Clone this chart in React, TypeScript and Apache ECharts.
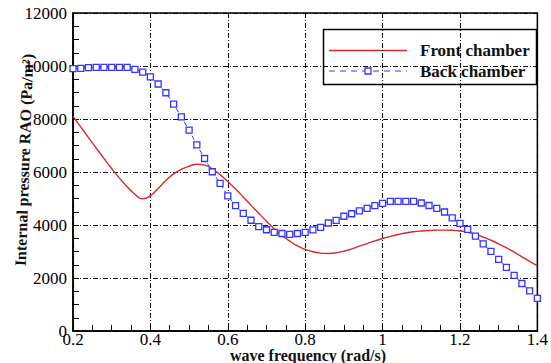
import React, { useEffect, useRef } from "react";
import * as echarts from "echarts";

const freqs = [
  0.2, 0.22, 0.24, 0.26, 0.28, 0.3, 0.32, 0.34, 0.36, 0.38,
  0.4, 0.42, 0.44, 0.46, 0.48, 0.5, 0.52, 0.54, 0.56, 0.58,
  0.6, 0.62, 0.64, 0.66, 0.68, 0.7, 0.72, 0.74, 0.76, 0.78,
  0.8, 0.82, 0.84, 0.86, 0.88, 0.9, 0.92, 0.94, 0.96, 0.98,
  1.0, 1.02, 1.04, 1.06, 1.08, 1.1, 1.12, 1.14, 1.16, 1.18,
  1.2, 1.22, 1.24, 1.26, 1.28, 1.3, 1.32, 1.34, 1.36, 1.38, 1.4,
];

const frontChamber = [
  8100, 7700, 7300, 6900, 6510, 6130, 5770, 5440, 5160, 4990,
  5100, 5380, 5680, 5930, 6100, 6220, 6290, 6260, 6120, 5900,
  5640, 5360, 5060, 4750, 4440, 4140, 3860, 3610, 3390, 3210,
  3080, 2990, 2940, 2925, 2950, 3010, 3100, 3200, 3300, 3400,
  3490, 3570, 3640, 3700, 3745, 3775, 3795, 3805, 3808, 3800,
  3775, 3725, 3645, 3545, 3425, 3290, 3140, 2975, 2800, 2630, 2460,
];

const backChamber = [
  9900, 9910, 9940, 9950, 9950, 9950, 9950, 9950, 9870, 9770,
  9590, 9320, 8990, 8560, 8080, 7580, 7020, 6510, 6010, 5570,
  5100, 4730, 4440, 4180, 3940, 3820, 3725, 3680, 3645, 3680,
  3725, 3818, 3909, 4075, 4173, 4330, 4425, 4530, 4627, 4730,
  4816, 4890, 4895, 4895, 4895, 4830, 4735, 4627, 4490, 4272,
  4065, 3833, 3580, 3290, 3007, 2705, 2400, 2100, 1792, 1515, 1230,
];

const seriesNames = ["Front chamber", "Back chamber"];
const xTitle = "wave frequency (rad/s)";
const yTitle = "Internal pressure RAO (Pa/m²)";

const RED = "#d62b2b";
const BLUE = "#3535ff";
const FONT = "Liberation Serif, serif";
const GRID_DASH = [5, 2, 1, 2];

export default function App() {
  const ref = useRef<HTMLDivElement>(null);
  useEffect(() => {
    if (!ref.current) return;
    const chart = echarts.init(ref.current, undefined, { renderer: "svg" });
    const front = freqs.map((f, i) => [f, frontChamber[i]]);
    const back = freqs.map((f, i) => [f, backChamber[i]]);
    const labelStyle = {
      color: "#000",
      fontFamily: FONT,
      fontSize: 17,
    };
    chart.setOption({
      animation: false,
      backgroundColor: "#fff",
      textStyle: { fontFamily: FONT },
      grid: {
        left: 73,
        right: 7,
        top: 13,
        bottom: 32,
        show: true,
        borderColor: "#000",
        borderWidth: 1.5,
        backgroundColor: "transparent",
        z: 3,
      },
      xAxis: {
        type: "value",
        min: 0.2,
        max: 1.4,
        interval: 0.2,
        axisLine: { show: true, lineStyle: { color: "#000", width: 1.5 } },
        axisTick: { show: true, inside: true, length: 6, lineStyle: { color: "#000", width: 1 } },
        minorTick: { show: true, splitNumber: 4, length: 6, lineStyle: { color: "#000", width: 1 } },
        splitLine: { show: true, lineStyle: { color: "#111", width: 1.1, type: GRID_DASH } },
        axisLabel: {
          ...labelStyle,
          margin: 0,
          formatter: (v: number) => String(Math.round(v * 10) / 10),
        },
      },
      yAxis: {
        type: "value",
        min: 0,
        max: 12000,
        interval: 2000,
        axisLine: { show: true, lineStyle: { color: "#000", width: 1.5 } },
        axisTick: { show: true, inside: true, length: 6, lineStyle: { color: "#000", width: 1 } },
        minorTick: { show: true, splitNumber: 4, length: 6, lineStyle: { color: "#000", width: 1 } },
        splitLine: { show: true, lineStyle: { color: "#111", width: 1.1, type: GRID_DASH } },
        axisLabel: {
          ...labelStyle,
          margin: 6,
          formatter: (v: number) => String(v),
        },
      },
      series: [
        {
          name: seriesNames[0],
          type: "line",
          data: front,
          smooth: true,
          showSymbol: false,
          symbol: "none",
          lineStyle: { color: RED, width: 1.4 },
          z: 4,
        },
        {
          name: seriesNames[1],
          type: "line",
          data: back,
          symbol: "rect",
          symbolSize: 6,
          showSymbol: true,
          itemStyle: { color: "#fff", borderColor: BLUE, borderWidth: 1.3 },
          lineStyle: { color: BLUE, width: 1, type: [5, 3] },
          z: 5,
        },
      ],
      graphic: [
        {
          type: "text",
          x: 24,
          y: 160,
          rotation: Math.PI / 2 - 0.035,
          z: 0,
          style: {
            text: yTitle,
            fontFamily: FONT,
            fontWeight: "bold",
            fontSize: 16,
            fill: "#111",
            textAlign: "center",
            textVerticalAlign: "middle",
          },
        },
        {
          type: "text",
          x: 308,
          y: 355,
          style: {
            text: xTitle,
            fontFamily: FONT,
            fontWeight: "bold",
            fontSize: 16,
            fill: "#111",
            textAlign: "center",
            textVerticalAlign: "middle",
          },
        },
        {
          type: "group",
          z: 10,
          children: [
            {
              type: "rect",
              shape: { x: 323.5, y: 29.5, width: 213, height: 55 },
              style: { fill: "#fff", stroke: "#000", lineWidth: 1.5 },
            },
            {
              type: "line",
              shape: { x1: 329, y1: 50.5, x2: 407, y2: 50.5 },
              style: { stroke: RED, lineWidth: 1.4 },
            },
            {
              type: "line",
              shape: { x1: 329, y1: 71, x2: 407, y2: 71 },
              style: { stroke: BLUE, lineWidth: 1, lineDash: [6, 5] },
            },
            {
              type: "rect",
              shape: { x: 365, y: 68, width: 6, height: 6 },
              style: { fill: "#fff", stroke: BLUE, lineWidth: 1.3 },
            },
            {
              type: "text",
              x: 420,
              y: 50.5,
              style: {
                text: seriesNames[0],
                fontFamily: FONT,
                fontWeight: "bold",
                fontSize: 17,
                fill: "#111",
                textAlign: "left",
                textVerticalAlign: "middle",
              },
            },
            {
              type: "text",
              x: 420,
              y: 71,
              style: {
                text: seriesNames[1],
                fontFamily: FONT,
                fontWeight: "bold",
                fontSize: 17,
                fill: "#111",
                textAlign: "left",
                textVerticalAlign: "middle",
              },
            },
          ],
        },
      ],
    });
    return () => chart.dispose();
  }, []);
  return (
    <div
      ref={ref}
      style={{ position: "absolute", left: 0, top: 0, width: 551, height: 363 }}
    />
  );
}
